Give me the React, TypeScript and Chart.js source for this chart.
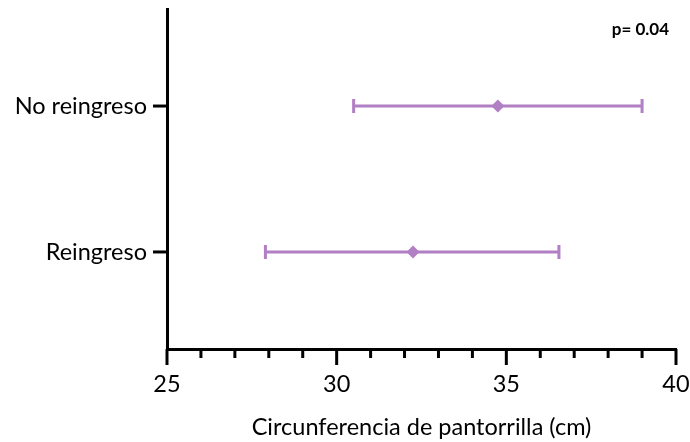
import React, { useEffect, useRef } from "react";
import { Chart, registerables } from "chart.js";

Chart.register(...registerables);

const categories = ["Reingreso", "No reingreso"];
const means = [32.25, 34.75];
const lower = [27.9, 30.5];
const upper = [36.55, 39.0];
const xTickValues = [25, 30, 35, 40];
const xTitle = "Circunferencia de pantorrilla (cm)";
const pText = "p= 0.04";

const PURPLE = "#b07fc4";
const FONT = "Lato, 'Open Sans', sans-serif";
const FS = 23.5;

export default function App() {
  const ref = useRef<HTMLCanvasElement | null>(null);

  useEffect(() => {
    if (!ref.current) return;
    const errorPlugin = {
      id: "errorBars",
      beforeDatasetsDraw(chart: any) {
        const ctx = chart.ctx;
        const xs = chart.scales.x;
        const ys = chart.scales.y;
        ctx.save();
        ctx.strokeStyle = PURPLE;
        ctx.lineWidth = 3;
        ctx.lineCap = "butt";
        categories.forEach((_, i) => {
          const y = ys.getPixelForValue(i + 1);
          const x0 = xs.getPixelForValue(lower[i]);
          const x1 = xs.getPixelForValue(upper[i]);
          ctx.beginPath();
          ctx.moveTo(x0, y);
          ctx.lineTo(x1, y);
          ctx.moveTo(x0, y - 7);
          ctx.lineTo(x0, y + 7);
          ctx.moveTo(x1, y - 7);
          ctx.lineTo(x1, y + 7);
          ctx.stroke();
        });
        ctx.restore();
      },
      afterDraw(chart: any) {
        const ctx = chart.ctx;
        const xs = chart.scales.x;
        const ys = chart.scales.y;
        const area = chart.chartArea;
        ctx.save();
        ctx.strokeStyle = "#000";
        ctx.lineWidth = 3;
        ctx.lineCap = "butt";
        xs.ticks.forEach((t: any) => {
          const px = xs.getPixelForValue(t.value);
          const major = xTickValues.includes(t.value);
          ctx.beginPath();
          ctx.moveTo(px, area.bottom);
          ctx.lineTo(px, area.bottom + (major ? 16 : 9));
          ctx.stroke();
        });
        categories.forEach((_, i) => {
          const py = ys.getPixelForValue(i + 1);
          ctx.beginPath();
          ctx.moveTo(area.left, py);
          ctx.lineTo(area.left - 14, py);
          ctx.stroke();
        });
        ctx.fillStyle = "#000";
        ctx.font = "bold 17px " + FONT;
        ctx.textAlign = "right";
        ctx.textBaseline = "middle";
        ctx.fillText(pText, 669, 30);
        ctx.restore();
      },
    };

    const chart = new Chart(ref.current, {
      type: "scatter",
      data: {
        datasets: [
          {
            data: means.map((m, i) => ({ x: m, y: i + 1 })),
            pointStyle: "rectRot",
            pointRadius: 6.5,
            backgroundColor: PURPLE,
            borderColor: PURPLE,
            borderWidth: 0,
          },
        ],
      },
      plugins: [errorPlugin],
      options: {
        animation: false,
        responsive: false,
        layout: { padding: { left: 0, right: 14, top: 9, bottom: 0 } },
        plugins: { legend: { display: false }, tooltip: { enabled: false } },
        scales: {
          x: {
            type: "linear",
            min: 25,
            max: 40,
            afterFit: (s: any) => {
              s.height = 93;
              s.paddingLeft = 0;
              s.paddingRight = 0;
            },
            ticks: {
              stepSize: 1,
              autoSkip: false,
              maxRotation: 0,
              padding: 21,
              color: "#000",
              font: { family: FONT, size: FS },
              callback: (v: any) => (xTickValues.includes(Number(v)) ? String(v) : ""),
            },
            grid: { display: false, drawTicks: false },
            border: { display: true, color: "#000", width: 3 },
            title: {
              display: true,
              text: xTitle,
              color: "#000",
              font: { family: FONT, size: FS },
              padding: { top: 0, bottom: 0 },
            },
          },
          y: {
            type: "linear",
            min: 0.335,
            max: 2.665,
            afterFit: (s: any) => {
              s.width = 167;
              s.paddingTop = 0;
              s.paddingBottom = 0;
            },
            afterBuildTicks: (s: any) => {
              s.ticks = categories.map((_, i) => ({ value: i + 1 }));
            },
            ticks: {
              padding: 20,
              color: "#000",
              font: { family: FONT, size: FS },
              callback: (v: any) => categories[Number(v) - 1] ?? "",
            },
            grid: { display: false, drawTicks: false },
            border: { display: true, color: "#000", width: 3 },
          },
        },
      },
    });
    return () => chart.destroy();
  }, []);

  return (
    <div style={{ position: "fixed", left: 0, top: 0, width: 690, height: 442, background: "#fff" }}>
      <canvas ref={ref} width={690} height={442} style={{ display: "block" }} />
    </div>
  );
}
